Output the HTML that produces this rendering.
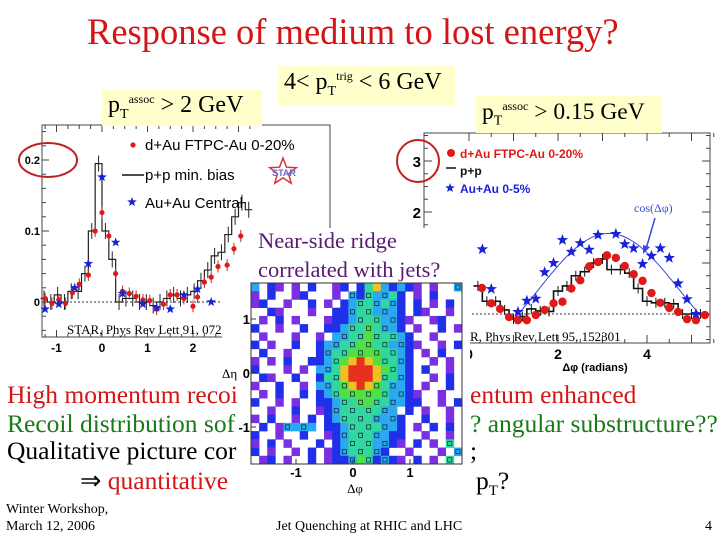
<!DOCTYPE html>
<html><head><meta charset="utf-8"><style>
body{margin:0;background:#fff}
#s{position:relative;width:720px;height:540px;overflow:hidden;background:#fff;font-family:"Liberation Serif",serif}
.t{position:absolute;white-space:nowrap;font-family:"Liberation Serif",serif}
.yb{position:absolute;background:#ffffcc}
</style></head><body>
<div id="s">
<svg id="g" width="720" height="540" style="position:absolute;left:0;top:0"></svg>
<div class="t" style="left:87px;top:10px;font-size:36.5px;color:#d41515">Response of medium to lost energy?</div>
<div class="yb" style="left:102px;top:90px;width:160px;height:36px"><span class="t" style="left:6px;top:2px;font-size:24px">p<sub style="font-size:14px">T</sub><sup style="font-size:12px">assoc</sup> &gt; 2 GeV</span></div>
<div class="yb" style="left:278px;top:66px;width:177px;height:39px"><span class="t" style="left:6px;top:3px;font-size:24px">4&lt; p<sub style="font-size:14px">T</sub><sup style="font-size:12px">trig</sup> &lt; 6 GeV</span></div>
<div class="yb" style="left:476px;top:96px;width:186px;height:37px"><span class="t" style="left:6px;top:3px;font-size:23.5px">p<sub style="font-size:14px">T</sub><sup style="font-size:12px">assoc</sup> &gt; 0.15 GeV</span></div>
<div class="t" style="left:258px;top:226px;font-size:22.5px;color:#5a1a70;line-height:29px">Near-side ridge<br>correlated with jets?</div>
<div class="t" style="left:7px;top:380px;font-size:25.5px;color:#d41515">High momentum recoi</div>
<div class="t" style="left:470px;top:380px;font-size:25.5px;color:#d41515">entum enhanced</div>
<div class="t" style="left:7px;top:409px;font-size:25.5px;color:#1a7a1a">Recoil distribution sof</div>
<div class="t" style="left:470px;top:409px;font-size:25.5px;color:#1a7a1a">? angular substructure??</div>
<div class="t" style="left:7px;top:436px;font-size:25.5px;color:#000">Qualitative picture cor</div>
<div class="t" style="left:470px;top:436px;font-size:25.5px">;</div>
<div class="t" style="left:80px;top:466px;font-size:25.5px"><span>&rArr;</span> <span style="color:#d41515">quantitative</span></div>
<div class="t" style="left:476px;top:466px;font-size:25.5px">p<sub style="font-size:15px">T</sub>?</div>
<div class="t" style="left:6px;top:501px;font-size:14px;line-height:17px">Winter Workshop,<br>March 12, 2006</div>
<div class="t" style="left:276px;top:519px;font-size:14px">Jet Quenching at RHIC and LHC</div>
<div class="t" style="left:705px;top:519px;font-size:14px">4</div>
</div>
<script>
// Left plot data (pT assoc > 2 GeV)
const leftPPBins=[-1.275,-1.125,-0.975,-0.825,-0.675,-0.525,-0.375,-0.225,-0.075,0.075,0.225,0.375,0.525,0.675,0.825,0.975,1.125,1.275,1.425,1.575,1.725,1.875,2.025,2.175,2.325,2.475,2.625,2.775,2.925,3.075,3.225];
const leftPPVals=[0.005,0,0.01,0,0.015,0.015,0.04,0.1,0.195,0.1,0.06,0.0,0.005,0.005,0,0,-0.005,0,0.005,0.01,0.005,0.01,0.015,0.03,0.045,0.065,0.07,0.095,0.12,0.14,0.13];
const leftDAuX=[-1.25,-1.1,-0.95,-0.8,-0.65,-0.5,-0.3,-0.15,0,0.15,0.3,0.45,0.6,0.75,0.9,1.05,1.2,1.35,1.5,1.65,1.8,2.0,2.1,2.25,2.4,2.55,2.75,2.9,3.05,3.2];
const leftDAuY=[0.005,-0.002,0.003,-0.002,0.013,0.025,0.038,0.1,0.126,0.093,0.04,0.015,0.012,0.008,0.003,0.002,-0.01,-0.003,0.01,0.01,0.005,-0.006,0.007,0.028,0.035,0.05,0.052,0.075,0.093,0.072];
const leftAuX=[-1.25,-0.95,-0.6,-0.3,0,0.3,0.45,0.9,1.2,1.5,1.8,2.1,2.4];
const leftAuY=[-0.01,-0.003,0.02,0.054,0.176,0.084,0.012,-0.003,-0.008,-0.01,0.01,0.018,0.0];
const leftXTicks=["-1","0","1","2"];
const leftYTicks=["0","0.1","0.2"];
// Right plot data (pT assoc > 0.15 GeV)
const rightPPBins=[0.2,0.4,0.6,0.8,1.0,1.2,1.4,1.6,1.8,2.0,2.2,2.4,2.6,2.8,3.0,3.2,3.4,3.6,3.8,4.0,4.2,4.4,4.6,4.8,5.0,5.2];
const rightPPVals=[0.55,0.25,0.25,0.08,-0.1,-0.05,0.1,0.06,0.05,0.45,0.55,0.75,0.83,1.0,1.08,0.87,0.87,0.8,0.5,0.25,0.22,0.22,0.2,0,0,0];
const rightDAuX=[0.29,0.5,0.7,0.9,1.1,1.3,1.5,1.7,1.9,2.1,2.3,2.5,2.7,2.9,3.1,3.3,3.5,3.7,3.9,4.1,4.3,4.5,4.7,4.9,5.1,5.3];
const rightDAuY=[0.51,0.21,0.1,-0.06,-0.12,-0.12,-0.02,0.08,0.21,0.24,0.5,0.66,0.93,1.02,1.15,1.1,0.94,0.78,0.65,0.41,0.22,0.12,0.04,-0.1,-0.12,-0.02];
const rightAuX=[0.3,0.5,1.1,1.3,1.5,1.7,1.9,2.1,2.3,2.5,2.7,2.9,3.3,3.5,3.7,3.9,4.1,4.3,4.5,4.7,4.9,5.1];
const rightAuY=[1.27,0.49,0.04,0.26,0.3,0.82,1.0,1.45,1.22,1.39,1.26,1.55,1.57,1.37,1.29,0.98,1.14,1.29,1.1,0.6,0.29,0.0];
const cosParams=[0.49,1.09];
const rightXTicks=["0","2","4"];
const rightYTicks=["2","3"];
// Heatmap levels (rows top -> bottom, cols dphi -1.8 -> 1.8), '.'=empty
const heatRows=[
"3.21.1.2..12.24632321.1..3",
"1.2..12...1.3243342.1.2...",
"12..1..2.1.23443432.2.1.2.",
"..21...1..223443332.21..1.",
".1.2.1...12234443321..12..",
"2..1..2..2234454332.1..2.1",
".1...1..1.3344544432..1...",
"2.1..2..2334455443321..1.2",
".2..1...234455554432.1.2..",
"1.1.2..2234567654432..1.1.",
"2...1.1.334677765432.2..1.",
".21..2..244677764432..1.2.",
"1..2..1.334567654332.1..2.",
".1.2..2.2345555543321..1..",
"2..1.1..2234455443322..1.2",
"..1..2..1234444433.2.1..1.",
"1.2..1.2.2344443332..2..1.",
".2.13333.2234444332.1.2.2.",
"2..1..2..1234443322..1..1.",
"1.2.1...2.234443321.2.1.4.",
"2.1..1.2.12344432..1...1.3",
".12.1..2.1223542321.2.1.4."];
const heatXTicks=["-1","0","1"];
const heatYTicks=["1","0","-1"];

const NS="http://www.w3.org/2000/svg";
const svg=document.getElementById('g');
function mk(tag,at,parent){const e=document.createElementNS(NS,tag);for(const k in at)e.setAttribute(k,at[k]);(parent||svg).appendChild(e);return e;}
function star(cx,cy,r){let p=[];for(let i=0;i<10;i++){const a=-Math.PI/2+i*Math.PI/5,rr=i%2?r*0.42:r;p.push((cx+rr*Math.cos(a)).toFixed(1)+','+(cy+rr*Math.sin(a)).toFixed(1));}return p.join(' ');}

// ---- Left plot ----
const lx=v=>102+45.5*v, ly=v=>302-710*v;
let lf=mk('rect',{x:42,y:125,width:288,height:212,fill:'#fff',stroke:'#444','stroke-width':1});

for(let v=-1.25;v<=3.3;v+=0.25){mk('line',{x1:lx(v),x2:lx(v),y1:337,y2:Math.abs(v-Math.round(v))<0.01?330:334,stroke:'#444'});mk('line',{x1:lx(v),x2:lx(v),y1:125,y2:Math.abs(v-Math.round(v))<0.01?132:129,stroke:'#444'});}
for(let v=-0.04;v<=0.24;v+=0.02){mk('line',{x1:42,x2:Math.abs(v*10-Math.round(v*10))<0.01?49:46,y1:ly(v),y2:ly(v),stroke:'#444'});}
mk('line',{x1:42,x2:330,y1:ly(0),y2:ly(0),stroke:'#333','stroke-dasharray':'2,2'});
leftXTicks.forEach(t=>{let e=mk('text',{x:lx(+t),y:352,'font-size':12,'font-weight':'bold','font-family':'Liberation Sans,sans-serif','text-anchor':'middle'});e.textContent=t;});
leftYTicks.forEach(t=>{let e=mk('text',{x:40,y:ly(+t)+4,'font-size':11,'font-weight':'bold','font-family':'Liberation Sans,sans-serif','text-anchor':'end'});e.textContent=t;});
{let d='',w=0.075;leftPPBins.forEach((c,i)=>{d+=(i?'L':'M')+lx(c-w)+','+ly(leftPPVals[i])+'L'+lx(c+w)+','+ly(leftPPVals[i]);});
let e=mk('path',{d:d,fill:'none',stroke:'#222','stroke-width':1.2});
leftPPBins.forEach((c,i)=>mk('line',{x1:lx(c),x2:lx(c),y1:ly(leftPPVals[i])-8,y2:ly(leftPPVals[i])+8,stroke:'#222'}));}
leftDAuX.forEach((x,i)=>{mk('line',{x1:lx(x),x2:lx(x),y1:ly(leftDAuY[i])-6,y2:ly(leftDAuY[i])+6,stroke:'#a33'});let e=mk('circle',{cx:lx(x),cy:ly(leftDAuY[i]),r:2.6,fill:'#e01818'});});
leftAuX.forEach((x,i)=>{let e=mk('polygon',{points:star(lx(x),ly(leftAuY[i]),5),fill:'#1a22d8'});});
{let g=mk('g',{});
mk('circle',{cx:133,cy:145,r:2.6,fill:'#e01818'},g);
mk('line',{x1:122,x2:144,y1:175,y2:175,stroke:'#111','stroke-width':1.5},g);
mk('polygon',{points:star(132,202,5),fill:'#1a22d8'},g);
[['d+Au FTPC-Au 0-20%',150],['p+p min. bias',180],['Au+Au Central',208]].forEach(a=>{let e=mk('text',{x:145,y:a[1],'font-size':15,'font-family':'Liberation Sans,sans-serif'},g);e.textContent=a[0];});
mk('polygon',{points:star(283,172,14),fill:'none',stroke:'#d33','stroke-width':1.5},g);
let st=mk('text',{x:284,y:176,'font-size':9,'font-weight':'bold','fill':'#6a6ac8','font-family':'Liberation Sans,sans-serif','text-anchor':'middle'},g);st.textContent='STAR';}
mk('ellipse',{cx:48,cy:160,rx:29,ry:17,fill:'none',stroke:'#c02020','stroke-width':2});
{let e=mk('text',{x:67,y:334,'font-size':13,'font-family':'Liberation Serif,serif'});e.textContent='STAR, Phys Rev Lett 91, 07230';}

// ---- Right plot ----
const rx=v=>469+44.5*v, ry=v=>314-51*v;
let rf=mk('rect',{x:424,y:133,width:286,height:210,fill:'#fff',stroke:'#444'});

for(let v=0;v<=5.5;v+=0.5){mk('line',{x1:rx(v),x2:rx(v),y1:343,y2:v%1?339:335,stroke:'#444'});mk('line',{x1:rx(v),x2:rx(v),y1:133,y2:v%1?137:141,stroke:'#444'});}
for(let v=-0.5;v<=3.5;v+=0.25){mk('line',{x1:424,x2:v%1?428:432,y1:ry(v),y2:ry(v),stroke:'#444'});mk('line',{x1:710,x2:v%1?706:702,y1:ry(v),y2:ry(v),stroke:'#444'});}
mk('line',{x1:424,x2:710,y1:ry(0),y2:ry(0),stroke:'#333','stroke-dasharray':'2,2'});
rightXTicks.forEach(t=>{let e=mk('text',{x:rx(+t),y:359,'font-size':14,'font-weight':'bold','font-family':'Liberation Sans,sans-serif','text-anchor':'middle'});e.textContent=t;});
rightYTicks.forEach(t=>{let e=mk('text',{x:421,y:212-(+t-2)*51+6,'font-size':15,'font-weight':'bold','font-family':'Liberation Sans,sans-serif','text-anchor':'end'});e.textContent=t;});
{let e=mk('text',{x:595,y:371,'font-size':11,'font-weight':'bold','font-family':'Liberation Sans,sans-serif','text-anchor':'middle'});e.textContent='Δφ (radians)';}
{let d='';for(let x=1.0;x<=5.25;x+=0.05){d+=(x>1.01?'L':'M')+rx(x).toFixed(1)+','+ry(cosParams[0]-cosParams[1]*Math.cos(x)).toFixed(1);}
let e=mk('path',{d:d,fill:'none',stroke:'#3a4ad8','stroke-width':1});}
{let d='',w=0.1;rightPPBins.forEach((c,i)=>{d+=(i?'L':'M')+rx(c-w)+','+ry(rightPPVals[i])+'L'+rx(c+w)+','+ry(rightPPVals[i]);});
let e=mk('path',{d:d,fill:'none',stroke:'#111','stroke-width':1.6});
rightPPBins.forEach((c,i)=>mk('line',{x1:rx(c),x2:rx(c),y1:ry(rightPPVals[i])-5,y2:ry(rightPPVals[i])+5,stroke:'#111'}));}
rightDAuX.forEach((x,i)=>{let e=mk('circle',{cx:rx(x),cy:ry(rightDAuY[i]),r:4.2,fill:'#e01818'});});
rightAuX.forEach((x,i)=>{let e=mk('polygon',{points:star(rx(x),ry(rightAuY[i]),6),fill:'#1a22d8'});});
{let g=mk('g',{'font-family':'Liberation Sans,sans-serif','font-weight':'bold','font-size':12});
mk('circle',{cx:451,cy:153,r:4,fill:'#e01818'},g);
let a=mk('text',{x:460,y:158,fill:'#e01818'},g);a.textContent='d+Au FTPC-Au 0-20%';
mk('line',{x1:446,x2:456,y1:168,y2:168,stroke:'#111','stroke-width':1.5},g);
let b=mk('text',{x:460,y:175,fill:'#111'},g);b.textContent='p+p';
mk('polygon',{points:star(450,188,5),fill:'#1a22d8'},g);
let c=mk('text',{x:460,y:193,fill:'#1a22d8'},g);c.textContent='Au+Au 0-5%';}
mk('circle',{cx:418,cy:161,r:21,fill:'none',stroke:'#c02020','stroke-width':2});
{let e=mk('text',{x:634,y:212,'font-size':12,fill:'#3a4ad8','font-family':'Liberation Serif,serif'});e.textContent='cos(Δφ)';}
mk('line',{x1:655,y1:218,x2:646,y2:249,stroke:'#3a4ad8','stroke-width':1.5});
mk('polygon',{points:'643,254 643,245 650,247',fill:'#3a4ad8'});
{let e=mk('text',{x:470,y:341,'font-size':13,'font-family':'Liberation Serif,serif'});e.textContent='R, Phys Rev Lett 95, 152301';}

// ---- Middle overlay ----
mk('rect',{x:245,y:228,width:225,height:57,fill:'#fff'});
mk('rect',{x:222,y:285,width:248,height:210,fill:'#fff'});
const hx=v=>353+57*v, hy=v=>373-54*v;
const colors=[null,'#7a30e0','#2030e8','#2aa8f0','#30d8a0','#50e040','#f0c020','#e83020'];
const nC=26,nR=22,x0=251,y0=283,cw=211/nC,ch=181/nR;
heatRows.forEach((row,r)=>{for(let c=0;c<nC;c++){const ch0=row[c]||'.';if(ch0==='.')continue;const lv=+ch0;
let e=mk('rect',{x:(x0+c*cw).toFixed(2),y:(y0+r*ch).toFixed(2),width:(cw+0.3).toFixed(2),height:(ch+0.3).toFixed(2),fill:colors[lv]});

if(lv>=3&&lv<=5&&(r+c)%2)mk('rect',{x:(x0+c*cw+2).toFixed(2),y:(y0+r*ch+2).toFixed(2),width:(cw-4).toFixed(2),height:(ch-4).toFixed(2),fill:'none',stroke:'#123','stroke-width':0.7});}});
mk('rect',{x:251,y:283,width:211,height:181,fill:'none',stroke:'#333'});
heatXTicks.forEach(t=>{mk('line',{x1:hx(+t),x2:hx(+t),y1:464,y2:459,stroke:'#333'});let e=mk('text',{x:hx(+t),y:477,'font-size':13,'font-weight':'bold','font-family':'Liberation Sans,sans-serif','text-anchor':'middle'});e.textContent=t;});
heatYTicks.forEach(t=>{mk('line',{x1:251,x2:256,y1:hy(+t),y2:hy(+t),stroke:'#333'});let e=mk('text',{x:250,y:hy(+t)+5,'font-size':13,'font-weight':'bold','font-family':'Liberation Sans,sans-serif','text-anchor':'end'});e.textContent=t;});
{let e=mk('text',{x:355,y:493,'font-size':13,'font-family':'Liberation Serif,serif','text-anchor':'middle'});e.textContent='Δφ';}
{let e=mk('text',{x:222,y:378,'font-size':13,'font-family':'Liberation Serif,serif'});e.textContent='Δη';}
</script>
</body></html>
